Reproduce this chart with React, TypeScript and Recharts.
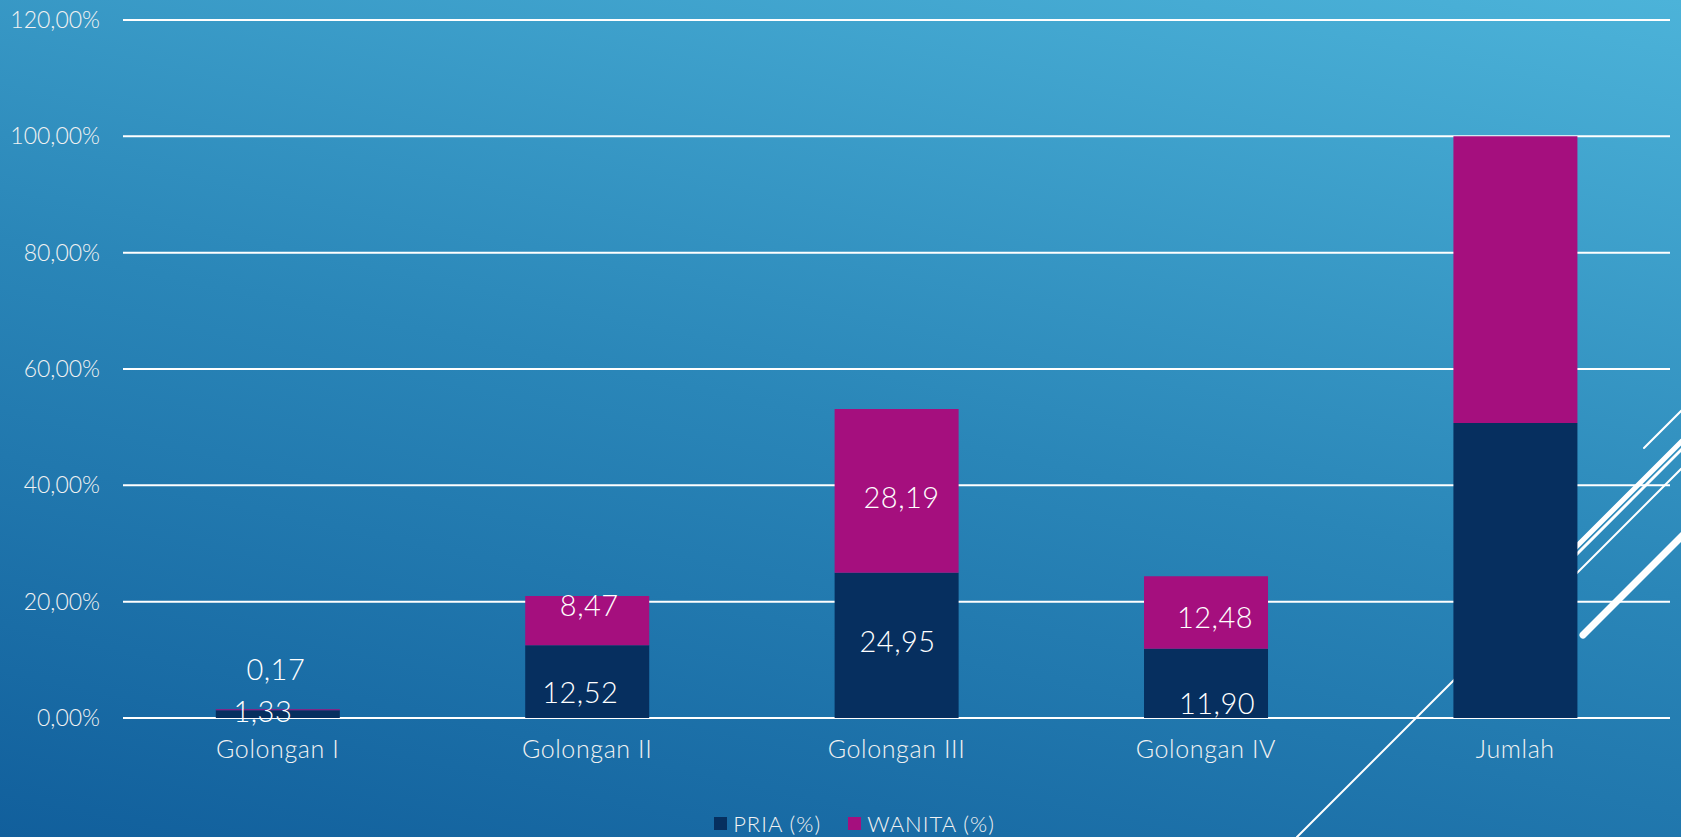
import { BarChart, Bar, CartesianGrid, XAxis, YAxis, Legend, LabelList } from "recharts";

const kategori = ["Golongan I", "Golongan II", "Golongan III", "Golongan IV", "Jumlah"];
const pria = [1.33, 12.52, 24.95, 11.9, 50.7];
const wanita = [0.17, 8.47, 28.19, 12.48, 49.31];
const yTicks = [0, 20, 40, 60, 80, 100, 120];

// label nudges (px) from the centre of each segment, like the hand-moved labels in the slide
const priaGeser = [[-15, -4], [-7, 10], [1, -5], [11, 19]];
const wanitaGeser = [[-2, -41], [2, -16], [5, 6], [9, 4]];

const WARNA_PRIA = "#062f5f";
const WARNA_WANITA = "#a50f7e";
const FONT = "Lato, 'DejaVu Sans', sans-serif";

const data = kategori.map((k, i) => ({ kategori: k, pria: pria[i], wanita: wanita[i] }));

const fmt = (v: number) => v.toFixed(2).replace(".", ",");

function labelMaker(geser: number[][]) {
    return (props: any) => {
        const { x, y, width, height, value, index } = props;
        if (index == null || index >= geser.length) return null;
        const [dx, dy] = geser[index];
        return (
            <text
                x={x + width / 2 + dx}
                y={y + height / 2 + dy}
                textAnchor="middle"
                dominantBaseline="central"
                fill="#ffffff"
                fontSize={29}
                fontFamily={FONT}
                fontWeight={300}
                letterSpacing={0.5}
            >
                {fmt(value)}
            </text>
        );
    };
}

function Keterangan() {
    const item = (warna: string, teks: string) => (
        <div style={{ display: "flex", alignItems: "center", marginRight: 27 }}>
            <div style={{ width: 13, height: 13, background: warna, marginRight: 6 }} />
            <span>{teks}</span>
        </div>
    );
    return (
        <div style={{
            display: "flex", justifyContent: "center", paddingLeft: 66, color: "#f2f2f2",
            fontSize: 22, letterSpacing: 1, fontFamily: FONT, fontWeight: 300, height: 28, alignItems: "center"
        }}>
            {item(WARNA_PRIA, "PRIA (%)")}
            {item(WARNA_WANITA, "WANITA (%)")}
        </div>
    );
}

export default function App() {
    return (
        <div style={{
            position: "fixed", left: 0, top: 0, width: 1681, height: 837, overflow: "hidden",
            background: "linear-gradient(12deg, #115f9c 0%, #2a86b8 50%, #4cb3d9 100%)"
        }}>
            {/* garis hiasan tema slide */}
            <svg width={1681} height={837} style={{ position: "absolute", left: 0, top: 0 }}>
                <g stroke="#ffffff" fill="none" strokeLinecap="round">
                    <line x1={1644} y1={448} x2={1700} y2={392} strokeWidth={2} />
                    <line x1={1540} y1={583} x2={1700} y2={423} strokeWidth={5} />
                    <line x1={1540} y1={591} x2={1700} y2={431} strokeWidth={3} />
                    <line x1={1540} y1={610} x2={1700} y2={450} strokeWidth={2} />
                    <line x1={1583} y1={635} x2={1700} y2={518} strokeWidth={7} />
                    <line x1={1297} y1={837} x2={1500} y2={634} strokeWidth={2} />
                </g>
            </svg>
            <div style={{ position: "absolute", left: 0, top: 0 }}>
                <BarChart
                    width={1681}
                    height={837}
                    data={data}
                    margin={{ top: 20, right: 11, left: 0, bottom: 0 }}
                    barCategoryGap="30%"
                >
                    <CartesianGrid vertical={false} stroke="#ffffff" strokeWidth={2} />
                    <XAxis
                        dataKey="kategori"
                        axisLine={false}
                        tickLine={false}
                        tickSize={0}
                        tickMargin={22}
                        height={91}
                        tick={{ fill: "#f2f2f2", fontSize: 25, fontFamily: FONT, fontWeight: 300, letterSpacing: 0.6 }}
                    />
                    <YAxis
                        domain={[0, 120]}
                        ticks={yTicks}
                        axisLine={false}
                        tickLine={false}
                        tickSize={0}
                        tickMargin={23}
                        width={123}
                        tickFormatter={(v: number) => fmt(v) + "%"}
                        tick={{ fill: "#f2f2f2", fontSize: 23, fontFamily: FONT, fontWeight: 300 }}
                    />
                    <Legend verticalAlign="bottom" content={() => <Keterangan />} wrapperStyle={{ height: 28 }} />
                    <Bar dataKey="pria" name="PRIA (%)" stackId="a" fill={WARNA_PRIA} isAnimationActive={false}>
                        <LabelList dataKey="pria" content={labelMaker(priaGeser)} />
                    </Bar>
                    <Bar dataKey="wanita" name="WANITA (%)" stackId="a" fill={WARNA_WANITA} isAnimationActive={false}>
                        <LabelList dataKey="wanita" content={labelMaker(wanitaGeser)} />
                    </Bar>
                </BarChart>
            </div>
        </div>
    );
}
